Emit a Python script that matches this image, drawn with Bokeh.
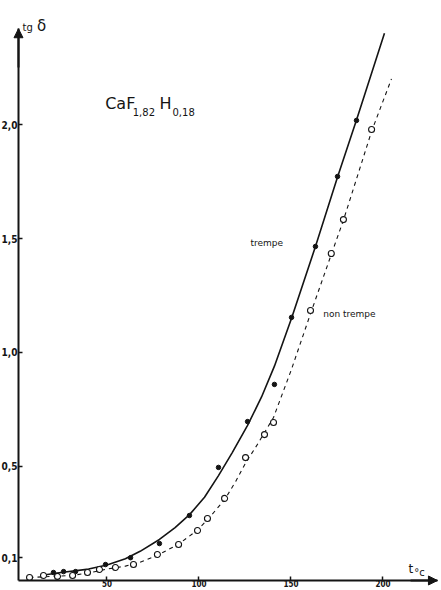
from bokeh.plotting import figure
from bokeh.models import Range1d, FixedTicker, Arrow, NormalHead, Label
from bokeh.embed import file_html
from bokeh.resources import INLINE

# Dielectric loss tangent of CaF1.82H0.18 versus temperature
# "trempe" (quenched) samples: measured points and drawn curve
trempe_t = [20.9, 26.4, 32.9, 49.2, 62.8, 78.5, 94.8, 110.6, 126.4, 141.0, 150.3, 163.3, 175.3, 185.6]
trempe_v = [0.035, 0.039, 0.039, 0.070, 0.100, 0.162, 0.285, 0.496, 0.697, 0.860, 1.154, 1.465, 1.772, 2.018]
trempe_curve_t = [13.9, 25, 40, 50, 60, 68, 78.5, 87, 95, 103, 110.6, 118, 126.4, 134, 141, 150.3, 163.3, 175.3, 185.6, 200.8]
trempe_curve_v = [0.022, 0.035, 0.05, 0.068, 0.095, 0.128, 0.18, 0.232, 0.29, 0.365, 0.46, 0.56, 0.68, 0.805, 0.94, 1.15, 1.465, 1.77, 2.02, 2.40]

# "non trempe" (not quenched) samples: measured points and drawn curve
non_trempe_t = [7.9, 15.5, 23.1, 31.3, 39.4, 45.9, 54.6, 64.4, 77.4, 88.9, 99.2, 104.6, 113.9, 125.3, 135.6, 140.5, 160.6, 171.9, 178.5, 193.8]
non_trempe_v = [0.013, 0.022, 0.018, 0.022, 0.035, 0.048, 0.057, 0.070, 0.114, 0.158, 0.219, 0.272, 0.360, 0.539, 0.640, 0.693, 1.184, 1.434, 1.583, 1.978]
non_trempe_curve_t = [7.9, 20, 31, 40, 50, 60, 68, 77.4, 89, 99, 105, 114, 120, 125.3, 132, 140.5, 150, 160.6, 171.9, 178.5, 193.8, 204.6]
non_trempe_curve_v = [0.013, 0.018, 0.022, 0.033, 0.05, 0.063, 0.08, 0.11, 0.16, 0.22, 0.27, 0.355, 0.435, 0.515, 0.60, 0.715, 0.92, 1.17, 1.43, 1.58, 1.97, 2.20]

# Axis ticks and their labels (French decimal comma)
y_ticks = [0.1, 0.5, 1.0, 1.5, 2.0]
y_tick_labels = ["0,1", "0,5", "1,0", "1,5", "2,0"]
x_ticks = [50, 100, 150, 200]
x_tick_labels = ["50", "100", "150", "200"]

INK = "#141414"
TICK_FONT = "Liberation Sans Narrow, DejaVu Sans Condensed, sans-serif"

# axis positions in data units
Y_AXIS_T = 1.9
Y_AXIS_TOP = 2.42
X_AXIS_END = 229.6

p = figure(width=441, height=590, output_backend="svg", toolbar_location=None,
           x_range=Range1d(-7.88, 231.8), y_range=Range1d(-0.0439, 2.5439),
           min_border=0, min_border_left=0, min_border_right=0,
           min_border_top=0, min_border_bottom=0)
p.outline_line_color = None
p.grid.visible = False
p.background_fill_color = "white"
p.border_fill_color = "white"

for ax in (p.xaxis[0], p.yaxis[0]):
    ax.axis_line_color = INK
    ax.axis_line_width = 2
    ax.major_tick_line_color = INK
    ax.major_tick_line_width = 1.5
    ax.major_tick_in = 4
    ax.major_tick_out = 0
    ax.minor_tick_line_color = None
    ax.major_label_text_font = TICK_FONT
    ax.major_label_text_font_style = "bold"
    ax.major_label_text_color = INK

p.yaxis.fixed_location = Y_AXIS_T
p.yaxis.bounds = (0, Y_AXIS_TOP)
p.yaxis.ticker = FixedTicker(ticks=y_ticks)
p.yaxis.major_label_overrides = dict(zip(y_ticks, y_tick_labels))
p.yaxis.major_label_standoff = 1
p.yaxis.major_label_text_font_size = "10px"

p.xaxis.fixed_location = 0
p.xaxis.bounds = (Y_AXIS_T, X_AXIS_END)
p.xaxis.ticker = FixedTicker(ticks=x_ticks)
p.xaxis.major_label_overrides = dict(zip(x_ticks, x_tick_labels))
p.xaxis.major_label_standoff = 0
p.xaxis.major_label_text_font_size = "8px"

# arrowheads at the ends of both axes
p.add_layout(Arrow(end=NormalHead(size=9, fill_color=INK, line_color=INK),
                   x_start=Y_AXIS_T, y_start=2.25, x_end=Y_AXIS_T, y_end=Y_AXIS_TOP,
                   line_color=INK, line_width=2))
p.add_layout(Arrow(end=NormalHead(size=9, fill_color=INK, line_color=INK),
                   x_start=215, y_start=0, x_end=X_AXIS_END, y_end=0,
                   line_color=INK, line_width=2))

# curves
p.line(trempe_curve_t, trempe_curve_v, line_color=INK, line_width=1.6)
p.line(non_trempe_curve_t, non_trempe_curve_v, line_color=INK, line_width=1.1,
       line_dash="4 4")

# measured points
p.scatter(trempe_t, trempe_v, marker="circle", size=4.5, fill_color=INK, line_color=INK)
p.scatter(non_trempe_t, non_trempe_v, marker="circle", size=6, fill_color="white",
          line_color=INK, line_width=1.1)

# annotations
def label(x, y, text, size, font="DejaVu Sans", style="normal"):
    p.add_layout(Label(x=x, y=y, text=text, text_font_size=size, text_font=font,
                       text_font_style=style, text_color=INK,
                       text_baseline="alphabetic", text_align="left"))

label(4.1, 2.426, "tg", "10px")
label(12.0, 2.431, "δ", "15px")

label(49.0, 2.091, "CaF", "16px")
label(64.0, 2.057, "1,82", "10px")
label(78.5, 2.091, "H", "16px")
label(85.6, 2.057, "0,18", "10px")

label(128.0, 1.481, "trempe", "9px")
label(167.5, 1.171, "non trempe", "9px")

label(213.9, 0.051, "t", "12px")
label(217.0, 0.037, "°c", "10px")

open("out.html", "w").write(file_html(p, INLINE))
